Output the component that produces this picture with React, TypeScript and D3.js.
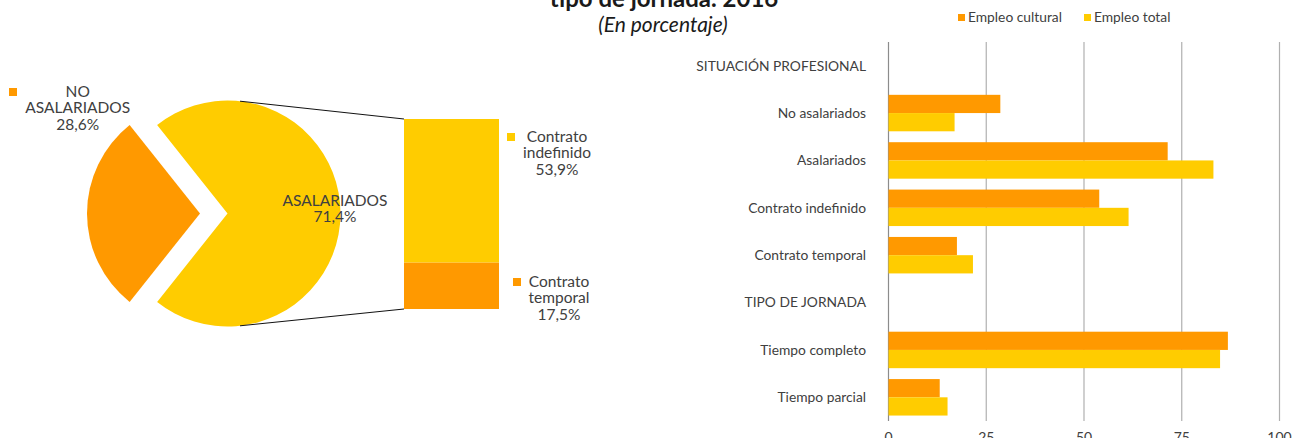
import React, { useEffect, useRef } from 'react';
import * as d3 from 'd3';

// pie: situación profesional del empleo cultural
const pieLabels = ['ASALARIADOS', 'NO ASALARIADOS'];
const pieValues = [71.4, 28.6];

// desglose de asalariados
const contractLabels = ['Contrato temporal', 'Contrato indefinido'];
const contractValues = [17.5, 53.9];

// barras
const categories = [
  'SITUACIÓN PROFESIONAL',
  'No asalariados',
  'Asalariados',
  'Contrato indefinido',
  'Contrato temporal',
  'TIPO DE JORNADA',
  'Tiempo completo',
  'Tiempo parcial',
];
const culturalValues = [null, 28.6, 71.4, 53.9, 17.5, null, 86.8, 13.1];
const totalValues = [null, 16.9, 83.1, 61.4, 21.6, null, 84.8, 15.1];
const seriesNames = ['Empleo cultural', 'Empleo total'];
const xTicks = [0, 25, 50, 75, 100];

const ORANGE = '#ff9900';
const YELLOW = '#ffcc00';
const TEXT = '#404040';
const FONT = 'Lato, "Open Sans", sans-serif';

export default function App() {
  const ref = useRef<SVGSVGElement>(null);

  useEffect(() => {
    const svg = d3.select(ref.current);
    svg.selectAll('*').remove();

    // title (first line falls above the picture)
    svg.append('text')
      .attr('x', 664).attr('y', -20)
      .attr('text-anchor', 'middle')
      .attr('font-size', 24).attr('font-weight', 'bold').attr('fill', '#1a1a1a')
      .text('Empleo cultural según situación profesional y');
    svg.append('text')
      .attr('x', 664).attr('y', 7)
      .attr('text-anchor', 'middle')
      .attr('font-size', 24).attr('font-weight', 'bold').attr('fill', '#1a1a1a')
      .text('tipo de jornada. 2016');
    svg.append('text')
      .attr('x', 663).attr('y', 32)
      .attr('text-anchor', 'middle')
      .attr('font-size', 21).attr('font-style', 'italic').attr('fill', '#1a1a1a')
      .text('(En porcentaje)');

    // ---- pie ----
    const cx = 227.5, cy = 213.5, r = 113;
    const a = (pieValues[1] / d3.sum(pieValues)) * Math.PI;
    const pie = d3.pie<number>().sort(null)
      .startAngle(-Math.PI / 2 + a)
      .endAngle(-Math.PI / 2 + a + 2 * Math.PI);
    const arc = d3.arc<d3.PieArcDatum<number>>().innerRadius(0).outerRadius(r);
    const arcs = pie(pieValues);
    const pieG = svg.append('g').attr('transform', `translate(${cx},${cy})`);
    pieG.selectAll('path')
      .data(arcs).enter()
      .append('path')
      .attr('d', arc)
      .attr('fill', (d, i) => (i === 0 ? YELLOW : ORANGE))
      .attr('transform', (d, i) => {
        if (i === 0) return null;
        const mid = (d.startAngle + d.endAngle) / 2;
        return `translate(${27.5 * Math.sin(mid)},${-27.5 * Math.cos(mid)})`;
      });

    // stacked bar for asalariados
    const barX = 404, barW = 95;
    const yStack = d3.scaleLinear().domain([0, d3.sum(contractValues)]).range([309, 119]);
    let acc = 0;
    const stack = contractValues.map(v => {
      const s = { y0: acc, y1: acc + v };
      acc += v;
      return s;
    });
    svg.selectAll('rect.stack')
      .data(stack).enter()
      .append('rect')
      .attr('class', 'stack')
      .attr('x', barX).attr('width', barW)
      .attr('y', d => yStack(d.y1))
      .attr('height', d => yStack(d.y0) - yStack(d.y1))
      .attr('fill', (d, i) => (i === 0 ? ORANGE : YELLOW));

    // connector lines
    const th = 0.111;
    const lines = [
      [cx + r * Math.sin(th), cy - r * Math.cos(th), barX, yStack(acc)],
      [cx + r * Math.sin(th), cy + r * Math.cos(th), barX, yStack(0)],
    ];
    svg.selectAll('line.conn')
      .data(lines).enter()
      .append('line')
      .attr('x1', d => d[0]).attr('y1', d => d[1])
      .attr('x2', d => d[2]).attr('y2', d => d[3])
      .attr('stroke', '#111').attr('stroke-width', 1);

    const fmt = (v: number) => v.toFixed(1).replace('.', ',') + '%';
    const multi = (x: number, y: number, lines: string[], size = 15.5) => {
      const t = svg.append('text')
        .attr('text-anchor', 'middle')
        .attr('font-size', size).attr('fill', TEXT);
      lines.forEach((l, i) => {
        t.append('tspan').attr('x', x).attr('y', y + i * 16.3).text(l);
      });
    };

    // pie labels
    svg.append('rect').attr('x', 9).attr('y', 88).attr('width', 8).attr('height', 8).attr('fill', ORANGE);
    multi(77.7, 97, ['NO', 'ASALARIADOS', fmt(pieValues[1])]);
    multi(335, 206, [pieLabels[0], fmt(pieValues[0])]);

    svg.append('rect').attr('x', 507).attr('y', 133).attr('width', 8).attr('height', 8).attr('fill', YELLOW);
    multi(557, 142, ['Contrato', 'indefinido', fmt(contractValues[1])]);
    svg.append('rect').attr('x', 513).attr('y', 278).attr('width', 8).attr('height', 8).attr('fill', ORANGE);
    multi(559, 287, ['Contrato', 'temporal', fmt(contractValues[0])]);

    // ---- bar chart ----
    const x = d3.scaleLinear().domain([0, 100]).range([888.5, 1279.5]);
    const y = d3.scaleBand().domain(categories).range([42, 421]).paddingInner(0.23).paddingOuter(0.115);
    const ySub = d3.scaleBand().domain(seriesNames).range([0, y.bandwidth()]);

    const grid = svg.append('g');
    grid.selectAll('line')
      .data(xTicks).enter()
      .append('line')
      .attr('x1', d => x(d)).attr('x2', d => x(d))
      .attr('y1', 42).attr('y2', 421)
      .attr('stroke', d => (d === 0 ? '#8c8c8c' : '#b0b0b0'))
      .attr('stroke-width', 1.2);

    svg.append('g').selectAll('text')
      .data(xTicks).enter()
      .append('text')
      .attr('x', d => x(d)).attr('y', 442)
      .attr('text-anchor', 'middle')
      .attr('font-size', 14).attr('fill', TEXT)
      .text(d => d);

    svg.append('g').selectAll('text')
      .data(categories).enter()
      .append('text')
      .attr('x', 866)
      .attr('y', d => (y(d) as number) + y.bandwidth() / 2)
      .attr('dy', '0.35em')
      .attr('text-anchor', 'end')
      .attr('font-size', 13.8).attr('fill', TEXT)
      .text(d => d);

    const series = [culturalValues, totalValues];
    series.forEach((vals, si) => {
      svg.append('g').selectAll('rect')
        .data(categories.map((c, i) => ({ c, v: vals[i] })).filter(d => d.v !== null)).enter()
        .append('rect')
        .attr('x', x(0))
        .attr('y', d => (y(d.c) as number) + (ySub(seriesNames[si]) as number))
        .attr('width', d => x(d.v as number) - x(0))
        .attr('height', ySub.bandwidth())
        .attr('fill', si === 0 ? ORANGE : YELLOW);
    });

    // legend
    const legend = [
      { name: seriesNames[0], color: ORANGE, x: 958 },
      { name: seriesNames[1], color: YELLOW, x: 1084 },
    ];
    legend.forEach(l => {
      svg.append('rect').attr('x', l.x).attr('y', 14).attr('width', 7).attr('height', 7).attr('fill', l.color);
      svg.append('text')
        .attr('x', l.x + 10).attr('y', 22)
        .attr('font-size', 13.8).attr('fill', TEXT)
        .text(l.name);
    });
  }, []);

  return (
    <svg
      ref={ref}
      width={1301}
      height={438}
      style={{ position: 'absolute', left: 0, top: 0, fontFamily: FONT, background: '#fff' }}
    />
  );
}
